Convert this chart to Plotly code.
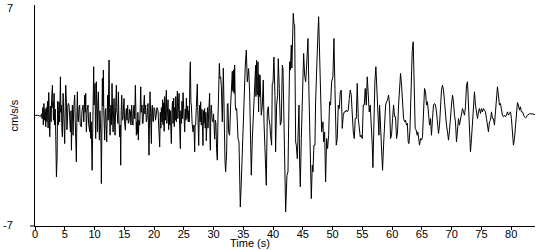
import plotly.graph_objects as go

# time (s) and acceleration (cm/s/s)
time_s = [
0.0,0.4,0.8,1.0,1.1,1.2,1.3,1.4,1.5,1.6,1.7,1.8,1.9,2.0,2.1,2.2,2.31,2.4,2.48,2.6,2.7,2.8,2.93,3.0,3.04,3.1,3.21,3.3,3.4,3.49,3.6,3.71,3.8,3.88,3.95,4.04,4.15,4.27,4.35,4.44,4.52,4.60,4.72,4.85,4.99,5.08,5.16,5.28,5.36,5.44,5.52,5.61,5.72,5.8,5.95,6.05,6.12,6.2,6.28,6.35,6.40,6.5,6.67,6.75,6.84,6.95,7.05,7.12,7.2,7.29,7.4,7.51,7.6,7.79,7.9,8.07,8.2,8.35,8.45,8.52,8.63,8.75,8.91,9.0,9.19,9.28,9.36,9.45,9.6,9.75,9.86,9.92,10.0,10.09,10.15,10.20,10.31,10.4,10.48,10.55,10.65,10.75,10.82,10.9,10.98,11.07,11.15,11.25,11.32,11.4,11.49,11.55,11.60,11.71,11.8,11.88,11.95,12.05,12.15,12.21,12.3,12.44,12.52,12.61,12.7,12.77,12.85,12.94,13.02,13.11,13.2,13.28,13.36,13.45,13.55,13.67,13.75,13.84,13.92,14.01,14.1,14.23,14.32,14.40,14.48,14.57,14.68,14.79,14.88,14.96,15.05,15.18,15.28,15.35,15.45,15.57,15.68,15.80,15.9,16.02,16.12,16.24,16.35,16.47,16.55,16.64,16.75,16.86,16.95,17.03,17.12,17.20,17.28,17.36,17.45,17.59,17.68,17.76,17.85,17.98,18.05,18.15,18.25,18.37,18.45,18.59,18.7,18.82,18.9,18.99,19.07,19.15,19.22,19.32,19.42,19.55,19.62,19.71,19.8,19.88,20.0,20.11,20.25,20.39,20.5,
20.67,20.8,20.95,21.05,21.15,21.23,21.35,21.45,21.51,21.6,21.7,21.79,21.9,22.0,22.07,22.15,22.25,22.35,22.45,22.55,22.63,22.75,22.85,22.91,23.0,23.1,23.19,23.3,23.4,23.47,23.55,23.65,23.75,23.85,23.92,24.0,24.1,24.2,24.31,24.42,24.5,24.59,24.7,24.8,24.87,24.95,25.05,25.15,25.25,25.35,25.43,25.55,25.65,25.75,25.85,25.92,26.03,26.10,26.2,26.27,26.4,26.55,26.7,26.83,26.9,26.99,27.1,27.2,27.27,27.35,27.45,27.50,27.6,27.66,27.75,27.83,27.94,28.05,28.15,28.22,28.3,28.4,28.50,28.6,28.7,28.78,28.9,29.0,29.06,29.15,29.25,29.34,29.40,29.46,29.55,29.62,29.75,29.90,30.0,30.1,30.18,30.3,30.4,30.5,30.63,30.74,30.85,30.97,31.08,31.19,31.30,31.47,31.64,31.75,31.81,31.92,32.03,32.20,32.31,32.42,32.53,32.70,32.87,33.09,33.15,33.2,33.26,33.32,33.38,33.43,33.48,33.54,33.6,33.65,33.76,33.88,33.99,34.10,34.27,34.38,34.49,34.66,34.77,34.88,35.05,35.22,35.33,35.50,35.67,35.78,35.89,36.06,36.23,36.34,36.51,36.67,36.90,37.07,37.12,37.18,37.23,37.29,37.35,37.4,37.46,37.52,37.57,37.62,37.68,37.74,37.79,37.9,38.02,38.19,38.35,38.47,38.58,38.75,38.86,39.03,39.19,39.30,39.47,39.58,39.75,39.86,39.98,40.14,40.31,40.42,40.59,40.76,40.87,41.04,41.21,41.38,41.55,
41.66,41.83,41.94,42.11,42.33,42.50,42.67,42.78,42.89,43.06,43.15,43.23,43.39,43.51,43.62,43.79,43.90,44.07,44.18,44.35,44.46,44.57,44.74,44.91,45.13,45.30,45.47,45.58,45.69,45.86,46.02,46.14,46.30,46.42,46.58,46.70,46.86,47.03,47.14,47.31,47.48,47.65,47.82,47.98,48.15,48.38,48.49,48.66,48.82,48.99,49.16,49.33,49.49,49.66,49.83,50.05,50.22,50.39,50.61,50.78,50.95,51.12,51.29,51.45,51.62,51.79,51.96,52.12,52.29,52.46,52.63,52.80,52.96,53.13,53.30,53.47,53.64,53.80,53.97,54.14,54.31,54.47,54.64,54.81,54.98,55.15,55.31,55.48,55.65,55.82,55.99,56.15,56.32,56.49,56.66,56.77,56.94,57.10,57.27,57.44,57.61,57.78,57.89,58.06,58.22,58.39,58.56,58.73,58.90,59.06,59.23,59.40,59.57,59.73,59.90,60.07,60.24,60.41,60.57,60.74,60.91,61.08,61.25,61.41,61.58,61.75,61.92,62.09,62.25,62.42,62.55,
62.70,62.81,62.98,63.20,63.37,63.54,63.65,63.76,63.87,64.04,64.21,64.32,64.49,64.60,64.77,64.93,65.10,65.27,65.44,65.61,65.77,65.94,66.11,66.28,66.45,66.61,66.78,66.95,67.12,67.28,67.45,67.62,67.79,67.96,68.12,68.29,68.46,68.63,68.80,68.96,69.13,69.30,69.47,69.64,69.80,69.97,70.14,70.31,70.47,70.64,70.81,70.98,71.15,71.31,71.48,71.65,71.82,71.99,72.15,72.32,72.49,72.66,72.82,72.99,73.16,73.33,73.50,73.66,73.83,74.00,74.17,74.34,74.50,74.67,74.84,75.01,75.17,75.34,75.51,75.68,75.85,76.01,76.18,76.35,76.52,76.69,76.85,77.02,77.19,77.36,77.53,77.69,77.86,78.03,78.20,78.36,78.53,78.70,78.87,79.04,79.20,79.37,79.54,79.71,79.88,80.04,80.21,80.38,80.55,80.71,80.88,81.05,81.22,81.39,81.55,81.72,81.89,82.06,82.23,82.39,82.56,82.73,82.90,83.07,83.35,83.63,84.07,
]

accel = [
0.0,0.02,-0.03,-0.05,0.1,-0.2,0.5,-0.6,0.76,-0.3,0.4,-0.72,0.5,-0.4,0.9,-0.8,1.46,-0.5,-1.35,0.6,-0.4,1.1,1.92,0.5,0.87,-0.3,1.40,-0.6,0.4,-1.35,-3.89,-2.73,0.9,0.23,-0.6,0.87,-0.4,2.45,0.2,0.66,-0.9,-1.35,1.40,-0.3,-1.78,0.5,1.92,0.8,-0.9,-0.40,0.6,0.76,0.66,-0.3,-1.04,0.3,-2.20,-0.5,0.66,-0.6,-1.25,0.4,1.29,-0.2,-1.14,-2.94,0.3,1.50,-0.2,-0.40,0.5,0.66,-0.6,-0.72,0.3,0.66,-0.4,1.29,0.2,1.40,-1.04,0.3,0.66,-0.5,-1.04,0.2,-1.46,-0.4,-3.47,0.5,3.09,0.66,1.6,2.03,-0.6,-1.46,2.14,0.1,-1.04,0.6,1.50,-0.5,-1.56,0.3,-0.40,-1.2,-4.31,0.4,2.35,0.6,2.88,0.3,-0.19,-1.56,0.3,0.44,-0.5,-1.67,0.4,1.29,-0.3,3.51,0.5,-1.25,0.2,0.66,-0.6,2.03,0.4,-1.04,0.3,1.08,-0.4,-1.25,0.5,1.92,0.2,0.02,-0.5,1.50,-0.2,-1.35,-0.6,-3.15,0.3,1.29,-0.3,-0.19,0.6,1.08,-0.4,-0.93,0.2,0.44,-0.3,0.66,-0.5,-0.40,0.4,0.23,-0.6,0.66,-0.3,-0.61,0.4,0.66,-0.2,1.92,0.3,-1.25,-0.4,-1.14,0.2,-1.56,-0.3,-0.61,0.5,1.82,0.2,0.66,-0.5,-0.51,0.5,1.29,0.1,0.66,-0.4,-0.19,0.5,0.76,-0.9,-2.52,-0.8,1.50,0.2,-1.78,0.3,0.66,-0.3,-0.40,0.5,0.44,-0.3,0.02,0.5,
0.3,-1.0,-2.0,0.2,-0.8,0.5,-0.4,1.0,-0.6,0.8,-1.0,1.2,-0.3,0.9,1.6,-0.5,0.6,1.0,-0.9,0.4,-0.6,0.3,-1.2,-1.78,0.2,0.9,-0.5,1.1,-0.7,0.5,-0.3,1.2,-0.4,0.7,1.54,-0.2,0.6,1.4,-0.8,-2.1,0.3,-0.5,0.9,-0.2,1.45,0.2,-0.6,-1.04,0.4,-0.3,1.1,-0.2,0.6,-0.4,0.3,-0.4,2.8,3.4,0.8,0.66,-0.5,-1.04,-0.6,-2.3,-0.6,-0.6,0.5,1.2,2.0,0.3,-1.0,-1.9,0.2,0.66,-0.4,0.87,-0.6,0.4,-1.0,-1.9,0.3,-0.5,0.44,-0.8,0.2,-1.6,-0.3,0.5,-0.8,0.2,0.8,1.4,-1.5,-2.2,0.3,0.66,-0.2,-0.4,0.1,-0.6,-1.5,-0.3,-0.5,-2.1,-2.83,-0.2,2.2,3.3,2.35,2.45,1.9,-0.4,3.0,0.8,-2.3,-2.9,-3.57,-2.3,0.66,0.76,-1.04,-1.25,0.66,1.92,2.8,1.6,2.66,1.5,2.9,2.14,1.4,3.2,1.2,0.66,0.34,0.44,-0.40,-1.46,-1.67,-3.57,-5.8,-4.2,-2.94,-1.88,0.66,2.35,3.2,4.14,2.14,2.56,2.98,1.50,-2.31,-3.78,-1.46,0.02,2.14,3.2,1.2,3.0,3.5,1.5,2.98,1.3,3.4,1.0,0.23,2.6,2.14,1.2,2.56,1.0,0.02,0.66,2.24,-0.40,-1.88,-2.83,-4.42,0.23,0.55,-0.19,-0.61,-1.25,-1.88,2.03,2.03,3.7,1.29,-2.3,0.66,1.29,3.6,1.71,-0.61,-0.40,3.2,
2.98,-0.5,-3.57,-6.11,-3.78,-3.57,0.87,3.40,2.88,4.46,3.0,4.36,6.47,5.8,5.73,-1.67,-1.88,-2.73,-1.04,0.66,-2.94,-4.52,-1.46,0.87,3.93,2.56,2.14,2.77,3.62,4.88,1.50,-1.25,-3.57,-5.26,-3.15,-3.57,-1.88,-1.88,0.87,3.62,4.67,6.26,3.62,0.87,-1.04,-0.40,-1.67,-1.04,-4.21,-1.46,-2.09,-1.25,0.87,0.66,2.14,2.45,4.88,1.71,-1.88,-1.46,0.66,0.44,1.50,1.61,-0.82,0.02,0.23,0.23,0.34,0.23,0.34,1.08,1.61,1.29,-0.19,-1.04,-1.46,-0.19,-0.19,2.03,-0.19,-1.04,-1.35,-1.25,-1.46,0.66,0.66,1.71,0.66,2.45,1.29,0.23,0.66,-0.40,-1.88,-3.3,0.02,2.14,3.09,1.71,0.87,-1.25,0.66,-1.04,-2.52,-3.47,-1.88,-0.61,0.66,0.87,0.97,1.29,0.66,-1.46,-1.25,-0.19,0.66,-0.08,-0.08,-1.46,-1.04,0.66,1.71,2.66,1.92,1.08,-0.19,-0.40,-0.30,-0.61,-0.5,
-1.67,-1.78,-1.04,2.35,4.04,4.67,2.35,0.02,-0.82,-0.93,-1.25,-1.04,-1.67,-1.88,-1.46,-1.56,-1.35,0.66,1.71,1.50,0.66,0.87,-0.30,-0.61,-0.19,-1.25,-0.19,0.66,0.76,0.66,0.23,-0.61,-1.14,-0.61,0.87,1.61,1.92,1.61,0.87,-0.19,-0.61,-1.04,-1.56,-0.93,0.23,0.66,1.29,0.87,0.02,-0.40,-1.67,-1.04,-0.19,-0.61,-0.30,0.23,0.44,0.23,0.02,0.55,1.92,2.14,0.66,-1.25,-2.30,-1.46,-0.40,0.87,1.50,0.66,0.02,-0.19,0.23,0.44,0.13,0.44,0.23,0.44,0.34,0.23,-0.19,-0.51,-1.04,-0.40,-0.30,0.23,-0.19,-0.19,-0.61,0.23,1.29,1.82,1.29,0.66,0.76,0.23,0.02,-0.08,0.02,-0.08,0.02,0.23,0.02,0.13,0.23,-0.19,-1.25,-1.88,-1.46,-0.82,0.23,0.82,0.66,0.34,0.55,0.23,0.23,0.02,-0.08,-0.15,-0.11,0.02,0.06,0.11,0.11,0.08,0.06,
]

x_ticks = list(range(0, 85, 5))
y_min, y_max = -7, 7

FONT = "Liberation Sans, Arial, sans-serif"

fig = go.Figure(go.Scatter(
    x=time_s, y=accel, mode="lines",
    line=dict(color="black", width=1),
    hoverinfo="skip",
))

fig.update_layout(
    width=550, height=250,
    margin=dict(l=35, r=15, t=5, b=24),
    paper_bgcolor="white", plot_bgcolor="white",
    showlegend=False,
    font=dict(family=FONT, size=11, color="black"),
    xaxis=dict(
        range=[0, 84], showgrid=False, zeroline=False,
        showline=True, linecolor="black", linewidth=1,
        ticks="outside", ticklen=3, tickcolor="black", tickwidth=1,
        tickvals=x_ticks, ticktext=[str(v) for v in x_ticks],
        ticklabelstandoff=-5,
        tickfont=dict(family=FONT, size=11, color="black"),
    ),
    yaxis=dict(
        range=[y_min, y_max], showgrid=False, zeroline=False,
        showline=True, linecolor="black", linewidth=1,
        ticks="", showticklabels=False,
    ),
    annotations=[
        dict(text=str(y_max), xref="paper", yref="y", x=0, y=y_max,
             xshift=-20, yshift=-3, xanchor="right", yanchor="middle", showarrow=False,
             font=dict(family=FONT, size=11, color="black")),
        dict(text=str(y_min), xref="paper", yref="y", x=0, y=y_min,
             xshift=-20, yshift=1, xanchor="right", yanchor="middle", showarrow=False,
             font=dict(family=FONT, size=11, color="black")),
        dict(text="Time (s)", xref="paper", yref="paper", x=0.43, y=0,
             yshift=-24, xanchor="center", yanchor="bottom", showarrow=False,
             borderpad=0,
             font=dict(family=FONT, size=11, color="black")),
        dict(text="cm/s/s", xref="paper", yref="paper", x=0, y=0.5,
             xshift=-22, xanchor="center", yanchor="middle", textangle=-90,
             showarrow=False, font=dict(family=FONT, size=11, color="black")),
    ],
    shapes=[
        dict(type="line", xref="paper", yref="paper", x0=-0.01, x1=0,
             y0=0, y1=0, line=dict(color="black", width=1)),
    ],
)

fig.write_html("out.html")
